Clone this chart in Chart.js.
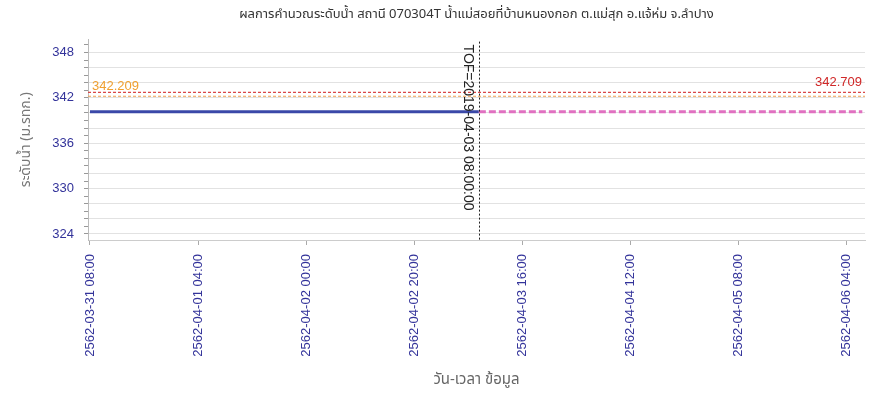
<!DOCTYPE html>
<html>
<head>
<meta charset="utf-8">
<title>ระดับน้ำ 070304T</title>
<script src="https://cdn.jsdelivr.net/npm/chart.js@4.4.1/dist/chart.umd.min.js"></script>
<style>
  body { margin: 0; background: #fff; }
  #wrap { width: 871px; height: 393px; position: relative; }
</style>
</head>
<body>
<div id="wrap"><canvas id="myChart"></canvas></div>
<script>
// station 070304T - computed water level
var startTime = Date.UTC(2019, 2, 31, 8, 0); // first reading 2019-03-31 08:00
var tofTime = '2019-04-03 08:00';

// observed level (solid blue) and forecast (dashed pink), times as yyyy-mm-dd hh:mm
var obsTimes = ['2019-03-31 08:00', '2019-04-03 08:00'];
var obsLevel = [340.15, 340.15];
var fcTimes = ['2019-04-03 08:00', '2019-04-06 07:00'];
var fcLevel = [340.15, 340.15];

// warning levels
var alertLevel = 342.209;
var bankLevel = 342.709;

var xMin = -0.37, xMax = 143.5; // hours from startTime
var yMin = 323.2, yMax = 349.7;

var thaiFont = "Tahoma, 'Noto Sans Thai', 'Noto Sans', 'Liberation Sans', sans-serif";
var numFont = "Tahoma, 'Liberation Sans', Arial, sans-serif";

function toHours(s) {
    var p = s.split(/[- :]/).map(Number);
    return (Date.UTC(p[0], p[1] - 1, p[2], p[3], p[4]) - startTime) / 3600000;
}

function pad(n) { return (n < 10 ? '0' : '') + n; }

// hour offset -> buddhist era label e.g. 2562-03-31 08:00
function hourLabel(h) {
    var d = new Date(startTime + h * 3600000);
    return (d.getUTCFullYear() + 543) + '-' + pad(d.getUTCMonth() + 1) + '-' + pad(d.getUTCDate()) +
        ' ' + pad(d.getUTCHours()) + ':' + pad(d.getUTCMinutes());
}

function pairs(times, vals) {
    return times.map(function (t, i) { return {x: toHours(t), y: vals[i]}; });
}

function flat(v) {
    return [{x: xMin, y: v}, {x: xMax, y: v}];
}

var markerPlugin = {
    id: 'markers',
    afterDatasetsDraw: function (chart) {
        var ctx = chart.ctx, xs = chart.scales.x, ys = chart.scales.y, area = chart.chartArea;
        ctx.save();
        // TOF line
        var tx = Math.round(xs.getPixelForValue(toHours(tofTime))) + 0.5;
        ctx.strokeStyle = '#222';
        ctx.lineWidth = 1;
        ctx.setLineDash([2, 2]);
        ctx.beginPath();
        ctx.moveTo(tx, area.top + 2);
        ctx.lineTo(tx, area.bottom);
        ctx.stroke();
        ctx.setLineDash([]);
        ctx.translate(tx - 12, area.top + 5);
        ctx.rotate(Math.PI / 2);
        ctx.fillStyle = '#222';
        ctx.font = '14px ' + numFont;
        ctx.textAlign = 'left';
        ctx.textBaseline = 'middle';
        ctx.fillText('TOF=' + tofTime + ':00', 0, 0);
        ctx.restore();

        // level labels
        ctx.save();
        ctx.font = '13px ' + numFont;
        ctx.textBaseline = 'bottom';
        ctx.fillStyle = '#f0a030';
        ctx.textAlign = 'left';
        ctx.fillText(alertLevel.toFixed(3), area.left + 4, ys.getPixelForValue(bankLevel) + 0);
        ctx.fillStyle = '#d02828';
        ctx.textAlign = 'right';
        ctx.fillText(bankLevel.toFixed(3), area.right - 3, ys.getPixelForValue(bankLevel) - 4);
        ctx.restore();
    }
};

var config = {
    type: 'line',
    data: {
        datasets: [
            {label: 'bank', data: flat(bankLevel), borderColor: '#d84848', borderWidth: 1.2, borderDash: [3, 2], pointRadius: 0},
            {label: 'alert', data: flat(alertLevel), borderColor: '#f0a050', borderWidth: 1.2, borderDash: [3, 2], pointRadius: 0},
            {label: 'forecast', data: pairs(fcTimes, fcLevel), borderColor: '#e070c0', borderWidth: 3, borderDash: [7, 3], pointRadius: 0},
            {label: 'observed', data: pairs(obsTimes, obsLevel), borderColor: '#3a48a8', borderWidth: 3, pointRadius: 0}
        ]
    },
    options: {
        animation: false,
        responsive: true,
        maintainAspectRatio: false,
        layout: {padding: {right: 6}},
        plugins: {
            legend: {display: false},
            tooltip: {enabled: false},
            title: {
                display: true,
                fullSize: false,
                text: 'ผลการคำนวณระดับน้ำ สถานี 070304T น้ำแม่สอยที่บ้านหนองกอก ต.แม่สุก อ.แจ้ห่ม จ.ลำปาง',
                color: '#333',
                font: {family: thaiFont, size: 13, weight: 'normal'},
                padding: {top: 8, bottom: 16}
            }
        },
        scales: {
            x: {
                type: 'linear',
                min: xMin,
                max: xMax,
                afterFit: function (scale) { scale.height = 153; },
                grid: {drawOnChartArea: false, tickLength: 5, tickColor: '#aaa'},
                border: {color: '#ccc'},
                ticks: {
                    stepSize: 20,
                    includeBounds: false,
                    autoSkip: false,
                    minRotation: 90,
                    maxRotation: 90,
                    padding: 9,
                    color: '#33339a',
                    font: {family: numFont, size: 13},
                    callback: function (v) { return hourLabel(v); }
                },
                title: {
                    display: true,
                    text: 'วัน-เวลา ข้อมูล',
                    color: '#666',
                    font: {family: thaiFont, size: 15},
                    padding: {top: 4, bottom: 3}
                }
            },
            y: {
                min: yMin,
                max: yMax,
                afterFit: function (scale) { scale.width = 88; },
                grid: {
                    color: function (c) { return c.tick && c.tick.value % 2 === 0 ? '#e2e2e2' : 'rgba(0,0,0,0)'; },
                    tickColor: '#999',
                    tickLength: 4
                },
                border: {color: '#bbb'},
                ticks: {
                    stepSize: 1,
                    includeBounds: false,
                    autoSkip: false,
                    padding: 10,
                    color: '#33339a',
                    font: {family: numFont, size: 13},
                    callback: function (v) { return v % 6 === 0 ? v : ''; }
                },
                title: {
                    display: true,
                    text: 'ระดับน้ำ (ม.รทก.)',
                    color: '#777',
                    font: {family: thaiFont, size: 14},
                    padding: {top: 19, bottom: 4}
                }
            }
        }
    },
    plugins: [markerPlugin]
};

window.onload = function () {
    var ctx = document.getElementById('myChart').getContext('2d');
    window.myLine = new Chart(ctx, config);
};
</script>
</body>
</html>
